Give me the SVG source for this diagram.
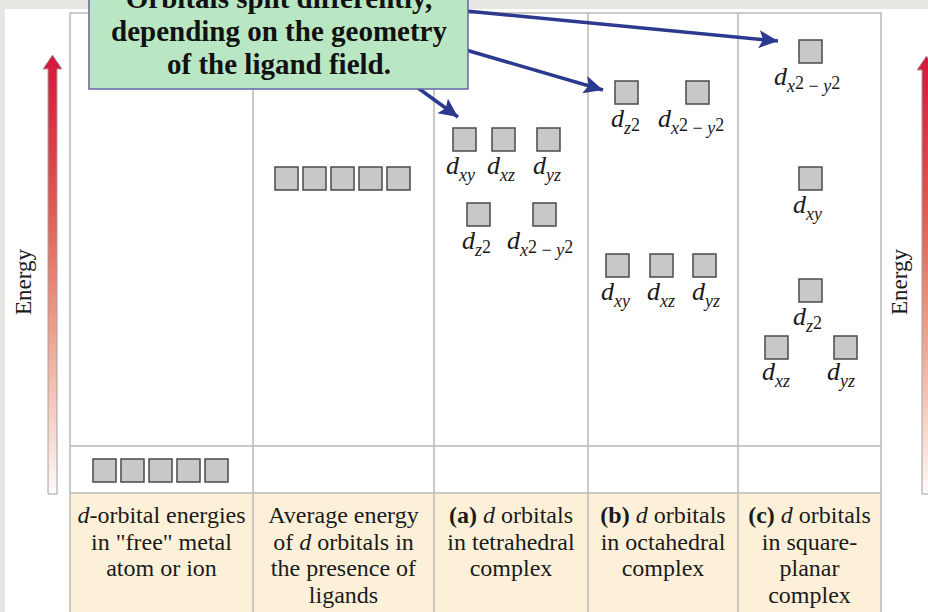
<svg xmlns="http://www.w3.org/2000/svg" width="928" height="612" viewBox="0 0 928 612">
<defs>
<linearGradient id="eg" x1="0" y1="0" x2="0" y2="1">
<stop offset="0" stop-color="#d5163c"/>
<stop offset="0.35" stop-color="#e05a52"/>
<stop offset="0.6" stop-color="#eb9a85"/>
<stop offset="0.85" stop-color="#f7d6cc"/>
<stop offset="1" stop-color="#fefafa"/>
</linearGradient>
<marker id="ah" markerUnits="userSpaceOnUse" markerWidth="22" markerHeight="20" refX="19" refY="9" orient="auto">
<path d="M0,0 L19,9 L0,18 L4,9 Z" fill="#2b3a8f"/>
</marker>
<style>
.sq{fill:#c8c8c8;stroke:#4a4a4a;stroke-width:1.5}
.grid{fill:none;stroke:#b9b9b9;stroke-width:1.5}
.lbl{font-family:"Liberation Serif",serif;font-style:italic;font-size:26px;fill:#1a1a1a}
.sub{font-size:18px}
.up{font-style:normal}
.cap{font-family:"Liberation Serif",serif;font-size:24px;fill:#1a1a1a;text-anchor:middle}
.it{font-style:italic}
.bd{font-weight:bold}
.en{font-family:"Liberation Serif",serif;font-size:23px;fill:#1a1a1a;text-anchor:middle}
.call{font-family:"Liberation Serif",serif;font-weight:bold;font-size:29px;fill:#111;text-anchor:middle}
.conn{stroke:#2b3a8f;stroke-width:3.5;fill:none;marker-end:url(#ah)}
</style>
</defs>
<rect x="0" y="0" width="928" height="612" fill="#e8e6e2"/>
<rect x="5" y="9" width="923" height="603" fill="#ffffff"/>
<g id="table">
<rect x="70" y="493" width="811" height="125" fill="#fcf1d8"/>
<rect x="70" y="13" width="811" height="610" class="grid"/>
<line x1="70" y1="446" x2="881" y2="446" class="grid"/>
<line x1="70" y1="493" x2="881" y2="493" class="grid"/>
<line x1="253" y1="13" x2="253" y2="612" class="grid"/>
<line x1="434" y1="13" x2="434" y2="612" class="grid"/>
<line x1="588" y1="13" x2="588" y2="612" class="grid"/>
<line x1="738" y1="13" x2="738" y2="612" class="grid"/>
</g>
<g id="energy-left">
<path d="M48,494 L48,69 L43,69 L52.5,55 L62,69 L57,69 L57,494 Z" fill="url(#eg)" stroke="#a0a0a0" stroke-width="1"/>
<text class="en" transform="translate(31,282) rotate(-90)">Energy</text>
</g>
<g id="energy-right">
<path d="M922,494 L922,70 L917,70 L926.5,56 L936,70 L931,70 L931,494 Z" fill="url(#eg)" stroke="#a0a0a0" stroke-width="1"/>
<text class="en" transform="translate(907,282) rotate(-90)">Energy</text>
</g>
<g id="free-ion">
<rect class="sq" x="93" y="459" width="23" height="23"/>
<rect class="sq" x="121" y="459" width="23" height="23"/>
<rect class="sq" x="149" y="459" width="23" height="23"/>
<rect class="sq" x="177" y="459" width="23" height="23"/>
<rect class="sq" x="205" y="459" width="23" height="23"/>
</g>
<g id="average">
<rect class="sq" x="275" y="167" width="23" height="23"/>
<rect class="sq" x="303" y="167" width="23" height="23"/>
<rect class="sq" x="331" y="167" width="23" height="23"/>
<rect class="sq" x="359" y="167" width="23" height="23"/>
<rect class="sq" x="387" y="167" width="23" height="23"/>
</g>
<g id="tetrahedral">
<rect class="sq" x="453" y="128" width="23" height="23"/>
<rect class="sq" x="492" y="128" width="23" height="23"/>
<rect class="sq" x="537" y="128" width="23" height="23"/>
<text class="lbl" x="446" y="174">d<tspan class="sub" dy="7">xy</tspan></text>
<text class="lbl" x="487" y="174">d<tspan class="sub" dy="7">xz</tspan></text>
<text class="lbl" x="533" y="174">d<tspan class="sub" dy="7">yz</tspan></text>
<rect class="sq" x="467" y="203" width="23" height="23"/>
<rect class="sq" x="533" y="203" width="23" height="23"/>
<text class="lbl" x="462" y="249">d<tspan class="sub" dy="7">z</tspan><tspan class="sub up" dy="-3">2</tspan></text>
<text class="lbl" x="507" y="249">d<tspan class="sub" dy="7">x</tspan><tspan class="sub up" dy="-3">2</tspan><tspan class="sub up" dy="3"> − </tspan><tspan class="sub">y</tspan><tspan class="sub up" dy="-3">2</tspan></text>
</g>
<g id="octahedral">
<rect class="sq" x="615" y="81" width="23" height="23"/>
<rect class="sq" x="686" y="81" width="23" height="23"/>
<text class="lbl" x="611" y="127">d<tspan class="sub" dy="7">z</tspan><tspan class="sub up" dy="-3">2</tspan></text>
<text class="lbl" x="658" y="127">d<tspan class="sub" dy="7">x</tspan><tspan class="sub up" dy="-3">2</tspan><tspan class="sub up" dy="3"> − </tspan><tspan class="sub">y</tspan><tspan class="sub up" dy="-3">2</tspan></text>
<rect class="sq" x="606" y="254" width="23" height="23"/>
<rect class="sq" x="650" y="254" width="23" height="23"/>
<rect class="sq" x="693" y="254" width="23" height="23"/>
<text class="lbl" x="601" y="300">d<tspan class="sub" dy="7">xy</tspan></text>
<text class="lbl" x="647" y="300">d<tspan class="sub" dy="7">xz</tspan></text>
<text class="lbl" x="692" y="300">d<tspan class="sub" dy="7">yz</tspan></text>
</g>
<g id="square-planar">
<rect class="sq" x="799" y="40" width="23" height="23"/>
<text class="lbl" x="774" y="85">d<tspan class="sub" dy="7">x</tspan><tspan class="sub up" dy="-3">2</tspan><tspan class="sub up" dy="3"> − </tspan><tspan class="sub">y</tspan><tspan class="sub up" dy="-3">2</tspan></text>
<rect class="sq" x="799" y="167" width="23" height="23"/>
<text class="lbl" x="793" y="213">d<tspan class="sub" dy="7">xy</tspan></text>
<rect class="sq" x="799" y="279" width="23" height="23"/>
<text class="lbl" x="793" y="325">d<tspan class="sub" dy="7">z</tspan><tspan class="sub up" dy="-3">2</tspan></text>
<rect class="sq" x="765" y="336" width="23" height="23"/>
<rect class="sq" x="834" y="336" width="23" height="23"/>
<text class="lbl" x="762" y="380">d<tspan class="sub" dy="7">xz</tspan></text>
<text class="lbl" x="827" y="380">d<tspan class="sub" dy="7">yz</tspan></text>
</g>
<g id="captions">
<text class="cap" x="161.5" y="523"><tspan class="it">d</tspan>-orbital energies</text>
<text class="cap" x="161.5" y="550">in "free" metal</text>
<text class="cap" x="161.5" y="576">atom or ion</text>
<text class="cap" x="343.5" y="523">Average energy</text>
<text class="cap" x="343.5" y="550">of <tspan class="it">d</tspan> orbitals in</text>
<text class="cap" x="343.5" y="576">the presence of</text>
<text class="cap" x="343.5" y="603">ligands</text>
<text class="cap" x="511" y="523"><tspan class="bd">(a)</tspan> <tspan class="it">d</tspan> orbitals</text>
<text class="cap" x="511" y="550">in tetrahedral</text>
<text class="cap" x="511" y="576">complex</text>
<text class="cap" x="663" y="523"><tspan class="bd">(b)</tspan> <tspan class="it">d</tspan> orbitals</text>
<text class="cap" x="663" y="550">in octahedral</text>
<text class="cap" x="663" y="576">complex</text>
<text class="cap" x="809.5" y="523"><tspan class="bd">(c)</tspan> <tspan class="it">d</tspan> orbitals</text>
<text class="cap" x="809.5" y="550">in square-</text>
<text class="cap" x="809.5" y="576">planar</text>
<text class="cap" x="809.5" y="603">complex</text>
</g>
<g id="connectors">
<line class="conn" x1="466" y1="11" x2="778" y2="41"/>
<line class="conn" x1="466" y1="50" x2="603" y2="90"/>
<line class="conn" x1="418" y1="88" x2="458" y2="117"/>
</g>
<g id="callout">
<rect x="89" y="-30" width="379" height="119" fill="#b9e6c3" stroke="#6464a8" stroke-width="1.5"/>
<text class="call" x="279" y="8">Orbitals split differently,</text>
<text class="call" x="279" y="41">depending on the geometry</text>
<text class="call" x="279" y="74">of the ligand field.</text>
</g>
</svg>
